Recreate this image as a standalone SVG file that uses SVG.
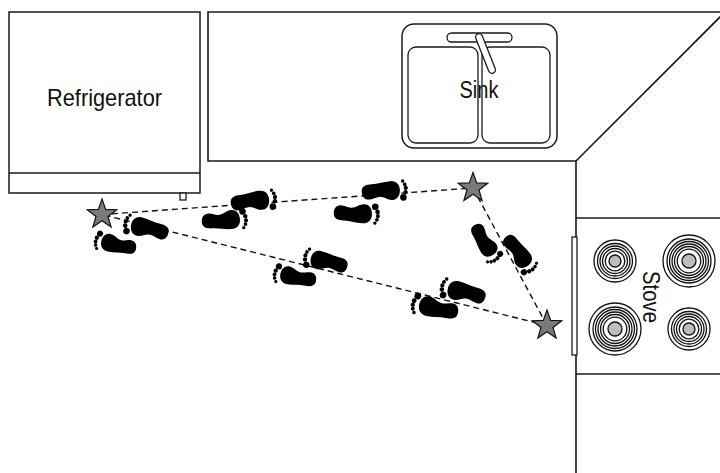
<svg xmlns="http://www.w3.org/2000/svg" xmlns:xlink="http://www.w3.org/1999/xlink" width="720" height="473" viewBox="0 0 720 473">
  <style>
    .wall { fill: none; stroke: #1a1a1a; stroke-width: 1.6; }
    .box { fill: #fff; stroke: #1a1a1a; stroke-width: 1.5; }
    .thin { fill: #fff; stroke: #1a1a1a; stroke-width: 1.3; }
    .label { font-family: "Liberation Sans", Arial, sans-serif; font-size: 23px; fill: #111; }
    .big { font-size: 24px; }
    .path { fill: none; stroke: #111; stroke-width: 1.4; stroke-dasharray: 6 4; }
    .star { fill: #7a7a7a; stroke: #111; stroke-width: 1.2; stroke-linejoin: miter; }
    .ring { fill: none; stroke: #111; stroke-width: 1.3; }
    .core { fill: #bdbdbd; stroke: #111; stroke-width: 1.3; }
    .foot { fill: #000; }
  </style>
  <defs>
    <!-- left foot, heel at origin, pointing +x, big toe on +y side -->
    <g id="footL" class="foot">
      <path d="M 0,-3 C 1,-7 5,-8 10,-8 C 17,-8 22,-10 29,-10 C 35,-10 38,-6 38,-1 C 38,5 35,9 30,9 C 25,9 22,5 17,5 C 13,5 11,7 6,7 C 2,7 -1,3 0,-3 Z"/>
      <circle cx="41" cy="7" r="3.3"/>
      <circle cx="43.5" cy="2" r="2.3"/>
      <circle cx="44" cy="-2.2" r="2.1"/>
      <circle cx="43.2" cy="-5.9" r="1.9"/>
      <circle cx="41.3" cy="-9.3" r="1.7"/>
    </g>
    <polygon id="star" class="star" points="0,-15.5 3.7,-5.1 14.74,-4.79 5.99,1.95 9.11,12.54 0,6.3 -9.11,12.54 -5.99,1.95 -14.74,-4.79 -3.7,-5.1"/>
    <g id="burnerSmall">
      <circle class="ring" r="21"/>
      <circle class="ring" r="17.5"/>
      <circle class="ring" r="15"/>
      <circle class="ring" r="12.5"/>
      <circle class="ring" r="9.8"/>
      <circle class="core" r="6"/>
    </g>
    <g id="burnerLarge">
      <circle class="ring" r="26"/>
      <circle class="ring" r="22"/>
      <circle class="ring" r="19.5"/>
      <circle class="ring" r="17"/>
      <circle class="ring" r="14.5"/>
      <circle class="ring" r="11.8"/>
      <circle class="core" r="7"/>
    </g>
  </defs>

  <rect width="720" height="473" fill="#fff"/>

  <!-- refrigerator -->
  <g id="refrigerator">
    <rect class="box" x="9" y="12" width="191" height="181"/>
    <line class="wall" x1="9" y1="173" x2="200" y2="173"/>
    <rect class="thin" x="180" y="193" width="6" height="7"/>
    <text class="label big" x="104.5" y="106" text-anchor="middle" textLength="115" lengthAdjust="spacingAndGlyphs">Refrigerator</text>
  </g>

  <!-- counters along the walls -->
  <g id="counter">
    <polyline class="wall" points="720,12 208,12 208,161 576,161 576,473"/>
    <line class="wall" x1="576" y1="161" x2="722" y2="15"/>
  </g>

  <!-- double sink -->
  <g id="sink">
    <rect class="box" x="402" y="24" width="155" height="124" rx="12"/>
    <rect class="thin" x="408" y="47" width="70" height="96" rx="8"/>
    <rect class="thin" x="482" y="47" width="68" height="96" rx="8"/>
    <rect class="thin" x="447" y="33" width="65" height="9" rx="4.5"/>
    <rect class="thin" x="-21" y="-3.5" width="42" height="7" rx="3.5" transform="translate(485.5,53.5) rotate(68.5)"/>
    <text class="label" x="479" y="98" text-anchor="middle" textLength="39" lengthAdjust="spacingAndGlyphs">Sink</text>
  </g>

  <!-- stove with four burners -->
  <g id="stove">
    <line class="wall" x1="576" y1="218" x2="720" y2="218"/>
    <line class="wall" x1="576" y1="374" x2="720" y2="374"/>
    <rect class="thin" x="572" y="237" width="5" height="118"/>
    <use href="#burnerSmall" x="615" y="261"/>
    <use href="#burnerLarge" x="689" y="261"/>
    <use href="#burnerLarge" x="615" y="329"/>
    <use href="#burnerSmall" x="689" y="329"/>
    <text class="label" transform="translate(643,297) rotate(90)" text-anchor="middle" textLength="52" lengthAdjust="spacingAndGlyphs">Stove</text>
  </g>

  <!-- walking route between the work stations -->
  <g id="connectors">
    <line class="path" x1="102" y1="214.5" x2="473" y2="188"/>
    <line class="path" x1="473" y1="188" x2="547" y2="325.5"/>
    <line class="path" x1="547" y1="325.5" x2="102" y2="214.5"/>
  </g>

  <!-- footprints -->
  <g id="footprints">
    <g id="foot-c"><use href="#footL" transform="translate(202,221) rotate(-3.7) scale(1.0,-1.0)"/></g>
    <g id="foot-d"><use href="#footL" transform="translate(231,204) rotate(-6.2) scale(1.01)"/></g>
    <g id="foot-f"><use href="#footL" transform="translate(334,212) rotate(2.5) scale(1.0,-1.0)"/></g>
    <g id="foot-e"><use href="#footL" transform="translate(362,193) rotate(-3.7) scale(1.0)"/></g>
    <g id="foot-i"><use href="#footL" transform="translate(475,225) rotate(58.6) scale(0.92,-0.92)"/></g>
    <g id="foot-j"><use href="#footL" transform="translate(506,237) rotate(53.4) scale(0.95)"/></g>
    <g id="foot-k"><use href="#footL" transform="translate(485,298) rotate(193.7) scale(1.01,-1.01)"/></g>
    <g id="foot-l"><use href="#footL" transform="translate(458,312) rotate(192) scale(1.04)"/></g>
    <g id="foot-g"><use href="#footL" transform="translate(347,267) rotate(192.8) scale(0.98,-0.98)"/></g>
    <g id="foot-h"><use href="#footL" transform="translate(316,280) rotate(190.5) scale(0.95)"/></g>
    <g id="foot-a"><use href="#footL" transform="translate(168,234) rotate(193.7) scale(1.0,-1.0)"/></g>
    <g id="foot-b"><use href="#footL" transform="translate(136,248) rotate(192) scale(0.93)"/></g>
  </g>

  <!-- stops on the route -->
  <g id="star-fridge"><use href="#star" x="102" y="214.5"/></g>
  <g id="star-sink"><use href="#star" x="473" y="188"/></g>
  <g id="star-stove"><use href="#star" x="547" y="325.5"/></g>
</svg>
